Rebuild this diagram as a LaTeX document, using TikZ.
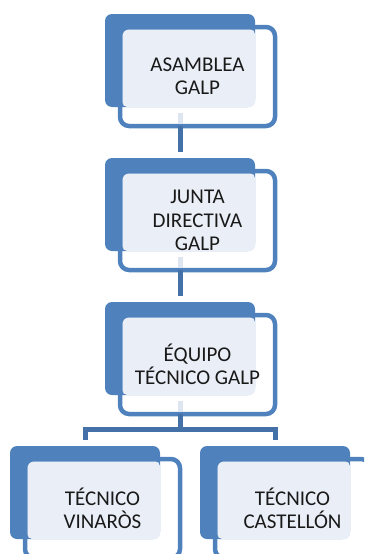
\documentclass[tikz,border=0pt]{standalone}
\usepackage{fontspec}
\setmainfont{Carlito}
\definecolor{boxblue}{HTML}{4F81BD}
\definecolor{connblue}{HTML}{4471A8}
\definecolor{lightfill}{HTML}{EAEFF7}
\definecolor{ghostblue}{HTML}{DDE5F0}
\begin{document}
\begin{tikzpicture}[x=1pt,y=-1pt,
  back/.style={fill=boxblue, rounded corners=7pt, minimum width=150pt, minimum height=93pt, outer sep=0pt, inner sep=0pt},
  frame/.style={draw=boxblue, line width=4.5pt, rounded corners=9pt, minimum width=155pt, minimum height=99pt, outer sep=0pt, align=center, font=\fontsize{21}{23.5}\selectfont, text=black!90},
  lite/.style={fill=lightfill, rounded corners=5pt},
  conn/.style={draw=connblue, line width=5pt, line join=miter},
  ghost/.style={draw=ghostblue, line width=5pt}]
\useasboundingbox (0,0) rectangle (364,554);
\clip (0,0) rectangle (364,554);
% back blocks
\node[back] (Aback) at (180,60.5) {};
\node[back] (Bback) at (180,204.5) {};
\node[back] (Cback) at (180,348.5) {};
\node[back] (Dback) at (85,492.5) {};
\node[back] (Eback) at (275,492.5) {};
% light text areas
\coordinate (Anw) at (197.5,76.5);
\fill[lite] ([shift={(-75.25pt,47.25pt)}]197.5,76.5) rectangle (Aback.south east);
\fill[lite] ([shift={(-75.25pt,47.25pt)}]197.5,220.5) rectangle (Bback.south east);
\fill[lite] ([shift={(-75.25pt,47.25pt)}]197.5,364.5) rectangle (Cback.south east);
\fill[lite] ([shift={(-75.25pt,47.25pt)}]102.5,508.5) rectangle (Dback.south east);
\fill[lite] ([shift={(-75.25pt,47.25pt)}]292.5,508.5) rectangle (Eback.south east);
% frames with text
\node[frame] (A) at (197.5,76.5) {ASAMBLEA\\GALP};
\node[frame] (B) at (197.5,220.5) {JUNTA\\DIRECTIVA\\GALP};
\node[frame] (C) at (197.5,364.5) {ÉQUIPO\\TÉCNICO GALP};
\node[frame] (D) at (102.5,508.5) {TÉCNICO\\VINARÒS};
\node[frame] (E) at (292.5,508.5) {TÉCNICO\\CASTELLÓN};
% faint connector parts inside frames
\draw[ghost] ([yshift=-6pt]Aback.south) -- ([yshift=2.25pt]Aback.south |- A.south);
\draw[ghost] ([yshift=-6pt]Bback.south) -- ([yshift=2.25pt]Bback.south |- B.south);
\draw[ghost] ([yshift=-6pt]Cback.south) -- ([yshift=2.25pt]Cback.south |- C.south);
% connectors
\draw[conn] (Aback.south |- A.south) -- ([yshift=6pt]Bback.north);
\draw[conn] (Bback.south |- B.south) -- ([yshift=6pt]Cback.north);
\coordinate (bus) at (180,429.5);
\draw[conn] (Cback.south |- C.south) -- (bus);
\draw[conn] ([yshift=6pt]Dback.north) |- (bus) -| ([yshift=6pt]Eback.north);
\end{tikzpicture}
\end{document}
